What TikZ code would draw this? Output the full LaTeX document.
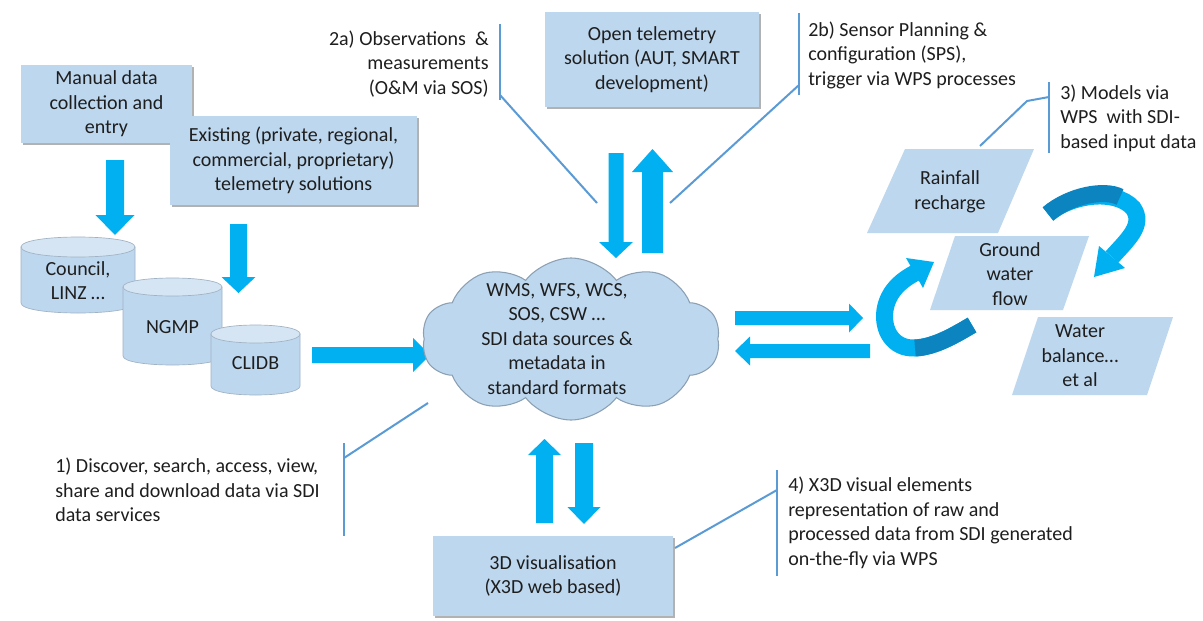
\documentclass[tikz,border=0pt]{standalone}
\usepackage{fontspec}
\setmainfont{Carlito}
\usetikzlibrary{shapes.symbols,shadows}
\definecolor{boxfill}{RGB}{189,215,238}
\definecolor{cyltopc}{RGB}{214,229,243}
\definecolor{cylline}{RGB}{160,178,196}
\definecolor{cloudline}{RGB}{140,160,180}
\definecolor{arrowblue}{RGB}{0,176,240}
\definecolor{darkblue}{RGB}{12,132,192}
\definecolor{midblue}{RGB}{6,155,218}
\definecolor{calloutc}{RGB}{91,155,213}
\definecolor{textcol}{RGB}{30,30,30}
\newcommand{\vblk}[6]{\fill[arrowblue] ({#1-#5},#2) -- ({#1-#5},#3) -- ({#1-#6},#3) -- (#1,#4) -- ({#1+#6},#3) -- ({#1+#5},#3) -- ({#1+#5},#2) -- cycle;}
\newcommand{\hblk}[6]{\fill[arrowblue] (#2,{#1-#5}) -- (#3,{#1-#5}) -- (#3,{#1-#6}) -- (#4,#1) -- (#3,{#1+#6}) -- (#3,{#1+#5}) -- (#2,{#1+#5}) -- cycle;}
\newcommand{\cyl}[5]{%
  \pgfmathsetmacro{\cc}{4/3*#5}%
  \filldraw[fill=boxfill,draw=cylline,line width=0.5pt] (#1,#3) -- (#1,#4) .. controls (#1,{#4+\cc}) and (#2,{#4+\cc}) .. (#2,#4) -- (#2,#3) -- cycle;
  \filldraw[fill=cyltopc,draw=cylline,line width=0.5pt] (#1,#3) .. controls (#1,{#3-\cc}) and (#2,{#3-\cc}) .. (#2,#3) .. controls (#2,{#3+\cc}) and (#1,{#3+\cc}) .. (#1,#3) -- cycle;}
\begin{document}
\begin{tikzpicture}[x=0.75pt,y=-0.75pt,
  font=\fontsize{15}{18.4}\selectfont,
  every node/.style={text=textcol},
  box/.style={fill=boxfill, draw=none, inner sep=0pt, align=center,
    drop shadow={shadow xshift=1.2pt, shadow yshift=-1.5pt, opacity=0.3, fill=black}},
  lbl/.style={inner sep=0pt, align=center},
  leader/.style={draw=calloutc, line width=1.5pt},
  band/.style={line width=12.75pt, line cap=butt}]
\useasboundingbox (0,0) rectangle (1203,621);
\fill[white] (0,0) rectangle (1203,621);

% top-left boxes
\node[box, minimum width=128.25pt, minimum height=58.5pt] (manual) at (106.5,104) {Manual data\\collection and\\entry};
\node[box, minimum width=185.25pt, minimum height=66.75pt] (existing) at (293.5,160.5) {Existing (private, regional,\\commercial, proprietary)\\telemetry solutions};

% cylinders
\cyl{21}{135}{247}{303}{10}
\node[lbl] (council) at (78,280.5) {Council,\\LINZ …};
\cyl{123}{222}{287}{356}{9}
\node[lbl] (ngmp) at (172.5,327) {NGMP};
\cyl{211}{300}{334}{386}{9}
\node[lbl] (clidb) at (255.5,363) {CLIDB};

% block arrows left
\vblk{115}{160}{215}{235}{9}{19.5}
\vblk{238.5}{224}{277}{293}{8.5}{17}
\hblk{355}{312}{413}{430}{8}{17}

% cloud
\node[cloud, cloud puffs=10, cloud puff arc=105, cloud ignores aspect, minimum width=223.5pt, minimum height=121.5pt,
  fill=boxfill, draw=cloudline, line width=0.8pt] (sdi) at (571,339) {};
\node[lbl] (sditxt) at (557,339) {WMS, WFS, WCS,\\SOS, CSW …\\SDI data sources \&\\metadata in\\standard formats};

% top box and arrows
\node[box, minimum width=160.5pt, minimum height=71.25pt] (open) at (652,59.5) {Open telemetry\\solution (AUT, SMART\\development)};
\vblk{616}{153}{242}{258}{7.5}{17}
\vblk{652.5}{253}{172}{149}{10.5}{20.5}

% bottom box and arrows
\node[box, minimum width=180pt, minimum height=60pt] (vis) at (553,576) {3D visualisation\\(X3D web based)};
\vblk{544.5}{523}{455}{439}{8.5}{16.5}
\vblk{584}{443}{507}{524}{9}{16.5}

% right arrows
\hblk{318}{735}{849}{863}{7}{14.5}
\hblk{351}{870}{750}{735}{7}{14.5}

% parallelograms
\fill[boxfill] (905,149) -- (1034,149) -- (998,233) -- (867,233) -- cycle;
\node[lbl] (rain) at (950,192) {Rainfall\\recharge};
\fill[boxfill] (955,236) -- (1089,236) -- (1063,310) -- (930,310) -- cycle;
\node[lbl] (ground) at (1010,274) {Ground\\water\\flow};
\fill[boxfill] (1038,317) -- (1173,317) -- (1147,395) -- (1012,395) -- cycle;
\node[lbl] (water) at (1080,356) {Water\\balance…\\et al};

% curved arrows
\draw[band, arrowblue] (972,325) .. controls (955,335) and (935,347) .. (915,348) .. controls (893,349) and (882,330) .. (885,310) .. controls (888,292) and (900,281) .. (915,273);
\draw[band, darkblue] (972,325) .. controls (955,335) and (935,347) .. (915,348);
\fill[arrowblue] (906,258) -- (934,262) -- (923,288) -- cycle;

\draw[band, arrowblue] (1048,214) .. controls (1070,195) and (1115,188) .. (1133,208) .. controls (1145,225) and (1127,240) .. (1112,257);
\draw[band, darkblue] (1048,214) .. controls (1070,195) and (1105,189) .. (1120,197);
\fill[arrowblue] (1099,246) -- (1125,268) -- (1094,277) -- cycle;

% callouts
\node[lbl, anchor=east, align=right] (c2a) at (489,64) {2a) Observations\ \ \&\\measurements\\(O\&M via SOS)};
\coordinate (b2at) at (500,24); \coordinate (b2ab) at (500,100);
\coordinate (b2aj) at (500,95); \coordinate (b2ae) at (597,203);
\draw[leader] (b2at) -- (b2ab);
\draw[leader] (b2aj) -- (b2ae);

\node[lbl, anchor=west, align=left] (c2b) at (808,55) {2b) Sensor Planning \&\\configuration (SPS),\\trigger via WPS processes};
\coordinate (b2bt) at (799,13); \coordinate (b2bb) at (799,95);
\coordinate (b2bj) at (799,85); \coordinate (b2be) at (670,203);
\draw[leader] (b2bt) -- (b2bb);
\draw[leader] (b2bj) -- (b2be);

\node[lbl, anchor=west, align=left] (c3) at (1060,118) {3) Models via\\WPS\ \ with SDI-\\based input data};
\coordinate (b3t) at (1049,82); \coordinate (b3b) at (1049,153);
\coordinate (b3j) at (1049,97); \coordinate (b3k) at (1027,101); \coordinate (b3e) at (980,146);
\draw[leader] (b3t) -- (b3b);
\draw[leader] (b3j) -- (b3k) -- (b3e);

\node[lbl, anchor=west, align=left] (c1) at (55,490) {1) Discover,\ search, access, view,\\share and download data via SDI\\data services};
\coordinate (b1t) at (344,443); \coordinate (b1b) at (344,536);
\coordinate (b1j) at (344,458); \coordinate (b1e) at (428,403);
\draw[leader] (b1t) -- (b1b);
\draw[leader] (b1j) -- (b1e);

\node[lbl, anchor=west, align=left] (c4) at (788,523) {4) X3D visual elements\\representation\ of raw and\\processed\ data from SDI generated\\on-the-fly via WPS};
\coordinate (b4t) at (777,470); \coordinate (b4b) at (777,576);
\coordinate (b4j) at (777,490); \coordinate (b4e) at (675,548);
\draw[leader] (b4t) -- (b4b);
\draw[leader] (b4j) -- (b4e);
\end{tikzpicture}
\end{document}
